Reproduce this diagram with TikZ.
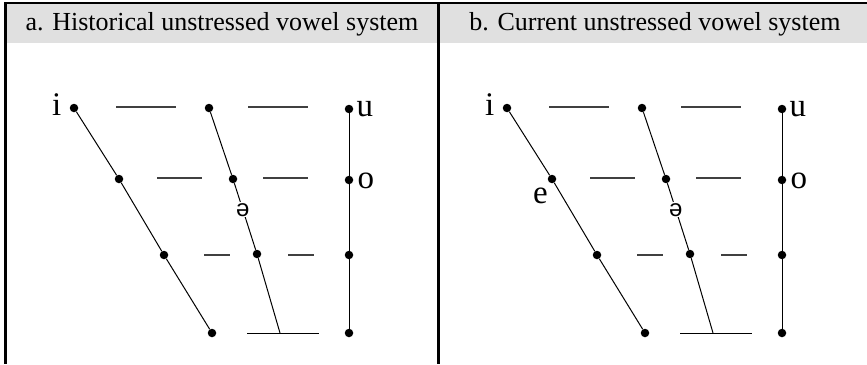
\documentclass[tikz,border=0pt]{standalone}
\usepackage{fontspec}
\setmainfont{Liberation Serif}
\newfontfamily\ipafont{Liberation Sans}
\begin{document}
\begin{tikzpicture}[x=1pt, y=-1pt, font=\fontsize{26}{30}\selectfont,
    vdot/.style={circle, fill, inner sep=0pt, minimum size=8.5pt},
    vlabel/.style={font=\fontsize{33}{38}\selectfont, inner sep=0pt},
    rung/.style={line width=1.3pt, black!75},
    trace/.style={line width=1pt},
    rule/.style={line width=2.5pt}]
    \useasboundingbox (0,0) rectangle (867,364);
    % table: grey header strip, top rule, side rules
    \fill[black!12] (5,4) rectangle (867,43);
    \draw[rule] (4,3) -- (867,3);
    \draw[rule] (5.3,3) -- (5.3,364);
    \draw[rule] (438.5,3) -- (438.5,364);

    \foreach \dx/\p/\ttl in {0/a/{a. Historical unstressed vowel system},
                             433/b/{b. Current unstressed vowel system}} {
      \begin{scope}[xshift=\dx]
        \node (\p-title) at (222,24) {\ttl};
        % front, central and back columns
        \node[vdot] (\p-i) at (74,108) {};
        \node[vdot] (\p-e) at (119,179) {};
        \node[vdot] (\p-f3) at (164,255) {};
        \node[vdot] (\p-f4) at (212,333) {};
        \node[vdot] (\p-c1) at (209,108) {};
        \node[vdot] (\p-c2) at (233,179) {};
        \node[vdot] (\p-c3) at (257,254) {};
        \coordinate (\p-c4) at (280,333);
        \node[vdot] (\p-u) at (349,109) {};
        \node[vdot] (\p-o) at (349,180) {};
        \node[vdot] (\p-b3) at (349,255) {};
        \node[vdot] (\p-b4) at (349,333) {};

        \draw[trace] (\p-i) -- (\p-e) -- (\p-f3) -- (\p-f4);
        \draw[trace] (\p-c1) -- (\p-c2)
          -- node[pos=0.4, fill=white, inner sep=1pt, font=\ipafont\fontsize{24}{28}\selectfont] (\p-schwa) {ə}
          (\p-c3) -- (\p-c4);
        \draw[trace] (\p-u) -- (\p-b4);
        \draw[trace] (247,333) -- (319,333);

        % short level marks
        \foreach \xa/\xb/\yy in {116/176/107, 248/308/107, 157/202/178,
                                 263/308/178, 204/230/255, 288/314/255}
          \draw[rung] (\xa,\yy) -- (\xb,\yy);

        \node[vlabel, anchor=base east] (\p-i-lbl) at ([xshift=-8pt, yshift=-7pt]\p-i.west) {i};
        \node[vlabel, anchor=base west] (\p-u-lbl) at ([xshift=3pt, yshift=-7pt]\p-u.east) {u};
        \node[vlabel, anchor=base west] (\p-o-lbl) at ([xshift=4pt, yshift=-8pt]\p-o.east) {o};
      \end{scope}
    }
    \node[vlabel, anchor=base east] (b-e-lbl) at ([xshift=-4pt, yshift=-24pt]b-e.center) {e};
\end{tikzpicture}
\end{document}
